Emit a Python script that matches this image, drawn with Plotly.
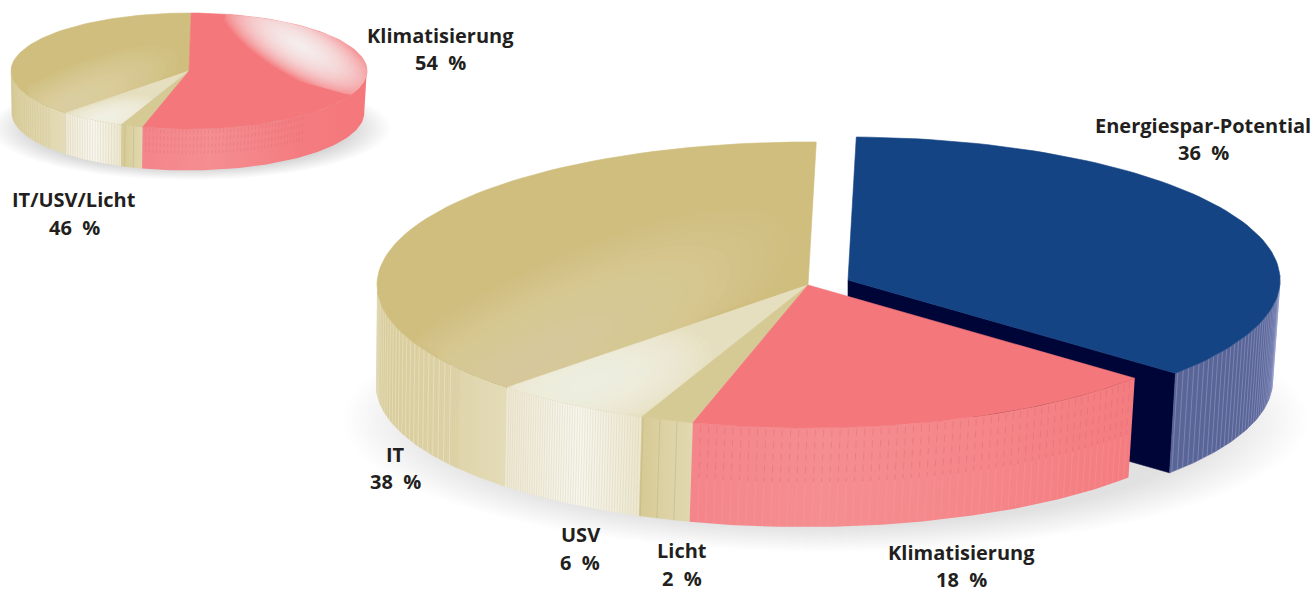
import math
import plotly.graph_objects as go

# ---- data (percent shares) ----
main_labels = ["Energiespar-Potential", "Klimatisierung", "Licht", "USV", "IT"]
main_shares = [36, 18, 2, 6, 38]
inset_labels = ["Klimatisierung", "IT/USV/Licht"]
inset_shares = [54, 46]
inset_parts = ["Licht", "USV", "IT"]
inset_part_shares = [2, 6, 38]

W, H = 1313, 593
fig = go.Figure()


def pt(c, a, k=1.0):
    t = math.radians(a)
    return c["x"] + c["rx"] * k * math.sin(t), c["y"] - c["ry"] * k * math.cos(t)


def bot(c, a):
    t = math.radians(a)
    return (c["x"] + c["sh"] + c["rx"] * c["sc"] * math.sin(t),
            c["y"] + c["d"] - c["ry"] * c["sc"] * math.cos(t))


def arc(c, a0, a1, n=80):
    return [pt(c, a0 + (a1 - a0) * i / n) for i in range(n + 1)]


def botarc(c, a0, a1, n=80):
    return [bot(c, a0 + (a1 - a0) * i / n) for i in range(n + 1)]


def poly(points, color=None, grad=None, lw=0.6):
    xs = [p[0] for p in points] + [points[0][0]]
    ys = [p[1] for p in points] + [points[0][1]]
    kw = dict(x=xs, y=ys, mode="lines", fill="toself", hoverinfo="skip", showlegend=False)
    if grad:
        kw["fillgradient"] = dict(type=grad[0], colorscale=grad[1])
        kw["line"] = dict(width=0)
    else:
        kw["fillcolor"] = color
        if color.startswith("rgba"):
            kw["line"] = dict(width=0)
        else:
            kw["line"] = dict(width=lw, color=color)
    fig.add_trace(go.Scatter(**kw))


def wedge(c, a0, a1):
    return [(c["x"], c["y"])] + arc(c, a0, a1)


def side(c, a0, a1):
    a0c, a1c = max(a0, 88), min(a1, 272)
    return arc(c, a0c, a1c) + botarc(c, a1c, a0c)


def stripes(c, a0, a1, step, color, width=1.0, dash=None, f0=0.0, f1=1.0):
    xs, ys = [], []
    a = a0
    while a <= a1:
        x0, y0 = pt(c, a)
        x1, y1 = bot(c, a)
        xs += [x0 + (x1 - x0) * f0, x0 + (x1 - x0) * f1, None]
        ys += [y0 + (y1 - y0) * f0, y0 + (y1 - y0) * f1, None]
        a += step
    ln = dict(color=color, width=width)
    if dash:
        ln["dash"] = dash
    fig.add_trace(go.Scatter(x=xs, y=ys, mode="lines", line=ln, hoverinfo="skip", showlegend=False))


def ray_hit(o, d, boundary):
    best = 1e9
    n = len(boundary)
    for i in range(n):
        ax, ay = boundary[i]
        bx, by = boundary[(i + 1) % n]
        ex, ey = bx - ax, by - ay
        det = d[0] * (-ey) + ex * d[1]
        if abs(det) < 1e-9:
            continue
        rx, ry = ax - o[0], ay - o[1]
        t = (rx * (-ey) + ex * ry) / det
        u = (d[0] * ry - d[1] * rx) / det
        if t > 1e-6 and -1e-6 <= u <= 1 + 1e-6:
            best = min(best, t)
    return best


def glow(center, r1, r2, rot, color, boundary=None, layers=12, alpha=0.1, smin=0.0):
    """Soft highlight: nested translucent blobs, clipped to a star-shaped boundary."""
    rr = math.radians(rot)
    for j in range(layers):
        s = 1 - (1 - smin) * j / layers
        pts = []
        for i in range(72):
            t = 2 * math.pi * i / 72
            lx, ly = r1 * s * math.cos(t), r2 * s * math.sin(t)
            dx = lx * math.cos(rr) - ly * math.sin(rr)
            dy = lx * math.sin(rr) + ly * math.cos(rr)
            r = math.hypot(dx, dy)
            d = (dx / r, dy / r)
            if boundary:
                r = min(r, ray_hit(center, d, boundary))
            pts.append((center[0] + d[0] * r, center[1] + d[1] * r))
        poly(pts, f"rgba({color},{alpha})")


# ---- geometry of the drawing ----
OFF = 1.1
OFF_I = 0.7
M = dict(x=808, y=285, rx=431, ry=143, d=100, sh=-4, sc=0.993)
B = dict(x=848, y=280, rx=432, ry=143, d=101, sh=-1, sc=0.985)
S = dict(x=189, y=71, rx=178, ry=58, d=42, sh=-1, sc=0.99)

cum = [OFF]
for v in main_shares:
    cum.append(cum[-1] + v * 3.6)
A = {lab: (cum[i], cum[i + 1]) for i, lab in enumerate(main_labels)}

i_cum = [OFF_I, OFF_I + inset_shares[0] * 3.6]
for v in inset_part_shares:
    i_cum.append(i_cum[-1] + v * 3.6)
I = {lab: (i_cum[i + 1], i_cum[i + 2]) for i, lab in enumerate(inset_parts)}
I_K = (i_cum[0], i_cum[1])

# ---- shadows ----
glow((825, 420), 482, 132, 0, "160,163,170", layers=30, alpha=0.016, smin=0.8)
glow((190, 128), 200, 52, 0, "160,163,170", layers=24, alpha=0.02, smin=0.75)

TAN = "#CFBE7D"
PINK = "#F4777B"

# ---- blue exploded slice ----
a0, a1 = A["Energiespar-Potential"]
e = pt(B, a1)
e2 = bot(B, a1)
poly([(B["x"], B["y"]), e, e2, (B["x"], B["y"] + B["d"])], "#000538")
poly(side(B, a0, a1), "#5A6597")
stripes(B, 90, a1, 1.15, "rgba(150,160,205,0.6)", 0.9)
poly(wedge(B, a0, a1), "#154484")

# ---- main pie sides ----
a0, a1 = A["IT"]
poly(side(M, a0, a1), grad=("horizontal", [[0, "#DCD0A0"], [0.6, "#DFD4AA"], [1, "#E4DBB8"]]))
stripes(M, 234, 268, 0.45, "rgba(205,192,140,0.3)", 0.8)
stripes(M, 236, 268, 1.4, "rgba(245,240,222,0.5)", 0.8)

a0, a1 = A["USV"]
poly(side(M, a0, a1), grad=("horizontal", [[0, "#EFE9D3"], [0.55, "#F8F6EE"], [1, "#EDE7CE"]]))
stripes(M, a0 + 0.4, a1, 0.4, "rgba(205,198,170,0.45)", 0.7)

a0, a1 = A["Licht"]
poly(side(M, a0, a1), grad=("horizontal", [[0, "#D5C992"], [0.5, "#DDD2A4"], [1, "#E1D8AF"]]))
stripes(M, a0 + 2.2, a1, 2.4, "rgba(190,180,140,0.7)", 0.8)

a0, a1 = A["Klimatisierung"]
poly(side(M, a0, a1), grad=("horizontal", [[0, "#F4858A"], [0.3, "#F58E91"], [0.65, "#F58689"], [1, "#F47C80"]]))
stripes(M, a0 + 1.0, a1 - 0.8, 1.1, "rgba(200,95,105,0.33)", 0.9, dash="7px,5px", f0=0.02, f1=0.55)
stripes(M, a0 + 1.0, a1 - 0.8, 1.1, "rgba(248,170,172,0.3)", 0.8, f0=0.55, f1=1.0)

# ---- main pie tops ----
a0, a1 = A["IT"]
w = wedge(M, a0, a1)
poly(w, TAN)
glow((530, 365), 290, 85, -28, "226,217,176", w, layers=22, alpha=0.07)

a0, a1 = A["USV"]
w = wedge(M, a0, a1)
poly(w, "#E6DFBF")
glow((590, 382), 125, 50, -15, "246,243,232", w, layers=18, alpha=0.1)

a0, a1 = A["Licht"]
poly(wedge(M, a0, a1), "#D6CA94")

a0, a1 = A["Klimatisierung"]
poly(wedge(M, a0, a1), PINK)

# ---- inset pie ----
for lab, g in (("IT", [[0, "#DCD0A0"], [1, "#E4DBB8"]]),
               ("USV", [[0, "#F0EAD6"], [0.5, "#F9F7F0"], [1, "#EDE7CE"]]),
               ("Licht", [[0, "#D6CA94"], [1, "#E1D8AF"]])):
    a0, a1 = I[lab]
    poly(side(S, a0, a1), grad=("horizontal", g))
a0, a1 = I["IT"]
stripes(S, a0 + 8, 268, 1.6, "rgba(205,192,140,0.45)", 0.8)
a0, a1 = I["USV"]
stripes(S, a0 + 0.5, a1, 1.0, "rgba(205,198,170,0.5)", 0.7)
a0, a1 = I["Licht"]
stripes(S, a0 + 3, a1, 3, "rgba(190,180,140,0.7)", 0.7)

poly(side(S, *I_K), grad=("horizontal", [[0, "#F4858A"], [0.3, "#F58E91"], [0.7, "#F47C80"], [1, PINK]]))
stripes(S, 140, I_K[1] - 0.5, 1.2, "rgba(200,95,105,0.3)", 0.8, dash="4px,3px", f0=0.02, f1=0.6)

a0, a1 = I["IT"]
w = wedge(S, a0, 360.7)
poly(w, TAN)
glow((68, 106), 120, 36, -25, "226,217,176", w, layers=18, alpha=0.08)
a0, a1 = I["USV"]
w = wedge(S, a0, a1)
poly(w, "#E6DFBF")
glow((105, 118), 55, 18, -15, "248,245,235", w, layers=14, alpha=0.12)
a0, a1 = I["Licht"]
poly(wedge(S, a0, a1), "#D6CA94")

a0, a1 = I_K
w = wedge(S, a0, a1)
poly(w, PINK)
ell = arc(S, 0, 130, 120)
# highlight region: upper right of the pink top face
hl_bound = [(224, 20)] + [p for p in ell if p[0] > 224 and p[1] < 96] + [(245, 68)]
glow((301, 46), 92, 32, 30, "255,255,255", hl_bound, layers=24, alpha=0.09)

# ---- labels ----
FONT = dict(family="Open Sans", size=20, color="#231F20")
LABELS = [
    (main_labels[0], main_shares[0], 1203, 125, 152),
    (main_labels[1], main_shares[1], 961, 552.5, 579.5),
    (main_labels[2], main_shares[2], 682, 550, 578),
    (main_labels[3], main_shares[3], 580, 534, 562),
    (main_labels[4], main_shares[4], 395, 454, 481),
    (inset_labels[0], inset_shares[0], 440, 35, 62),
    (inset_labels[1], inset_shares[1], 74, 199, 227),
]
for name, val, x, y1, y2 in LABELS:
    fig.add_annotation(x=x, y=y1, text=f"<b>{name}</b>", showarrow=False, font=FONT, xanchor="center", yanchor="middle")
    fig.add_annotation(x=x, y=y2, text=f"<b>{val}\u00a0\u00a0%</b>", showarrow=False, font=FONT, xanchor="center", yanchor="middle")

fig.update_layout(
    width=W, height=H, margin=dict(l=0, r=0, t=0, b=0),
    paper_bgcolor="white", plot_bgcolor="white", showlegend=False,
    xaxis=dict(range=[0, W], visible=False, fixedrange=True),
    yaxis=dict(range=[H, 0], visible=False, fixedrange=True),
)
fig.write_html("out.html", config=dict(displayModeBar=False),
               post_script="document.body.style.margin='0';document.body.style.overflow='hidden';")
